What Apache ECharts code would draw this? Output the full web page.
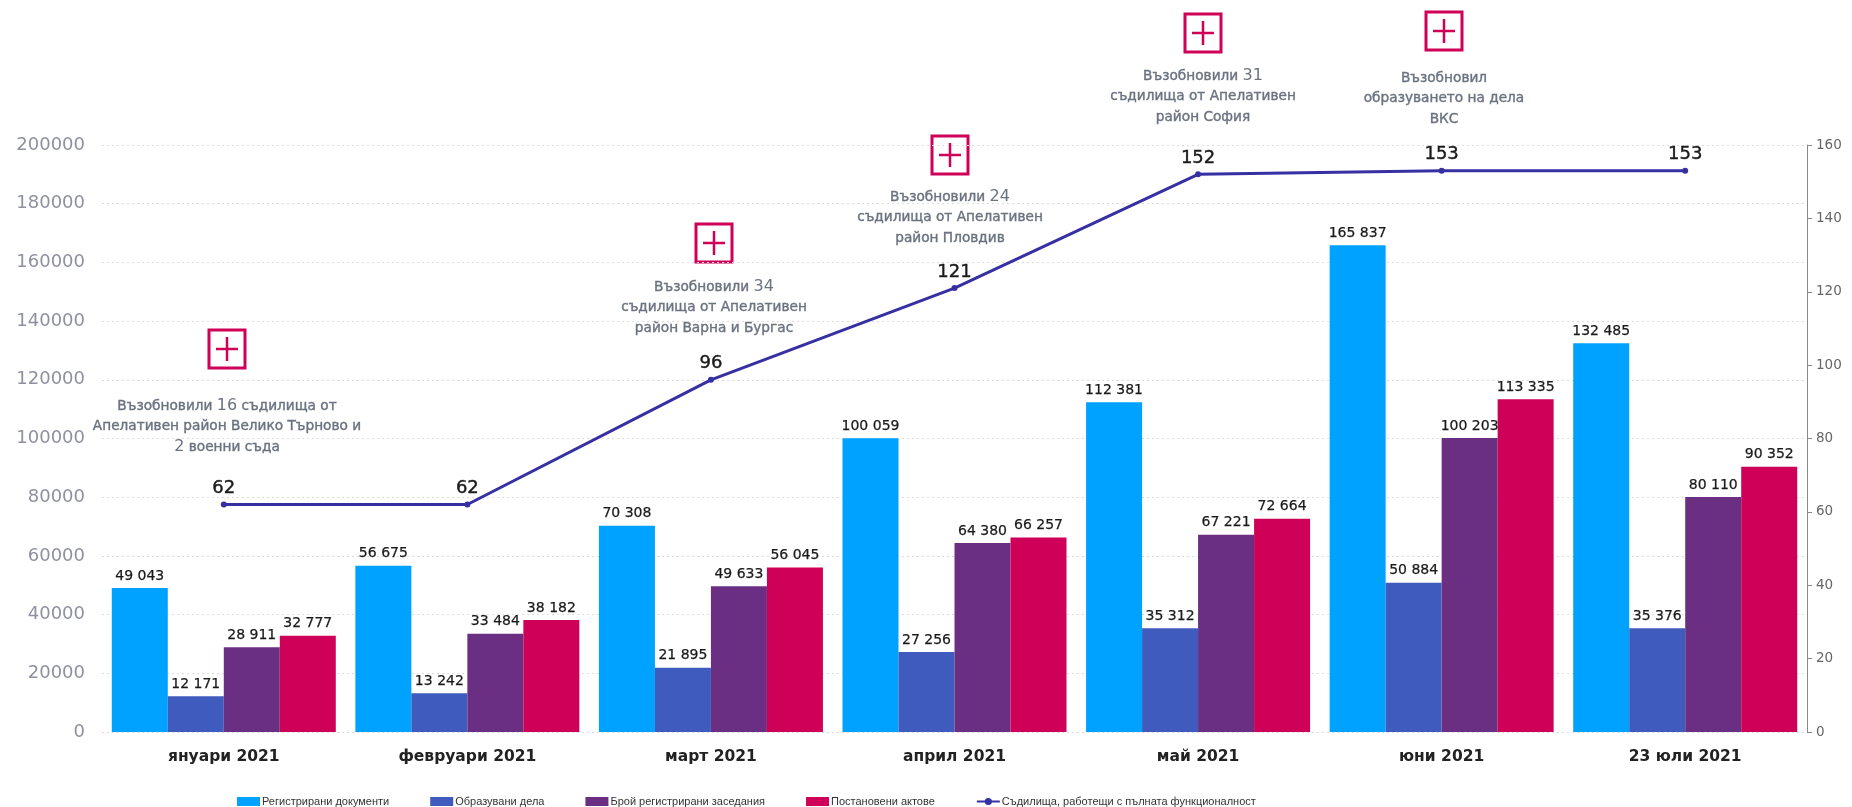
<!DOCTYPE html>
<html>
<head>
<meta charset="utf-8">
<title>Съдилища 2021</title>
<script src="https://cdn.jsdelivr.net/npm/echarts@6/dist/echarts.min.js"></script>
<style>
html, body { margin: 0; padding: 0; background: #fff; }
#main { width: 1852px; height: 807px; }
</style>
</head>
<body>
<div id="main"></div>
<script>
var months = ['януари 2021', 'февруари 2021', 'март 2021', 'април 2021', 'май 2021', 'юни 2021', '23 юли 2021'];
var documents = [49043, 56675, 70308, 100059, 112381, 165837, 132485];
var cases = [12171, 13242, 21895, 27256, 35312, 50884, 35376];
var hearings = [28911, 33484, 49633, 64380, 67221, 100203, 80110];
var acts = [32777, 38182, 56045, 66257, 72664, 113335, 90352];
var courts = [62, 62, 96, 121, 152, 153, 153];

var notes = [
    ['Възобновили 16 съдилища от', 'Апелативен район Велико Търново и', '2 военни съда'],
    ['Възобновили 34', 'съдилища от Апелативен', 'район Варна и Бургас'],
    ['Възобновили 24', 'съдилища от Апелативен', 'район Пловдив'],
    ['Възобновили 31', 'съдилища от Апелативен', 'район София'],
    ['Възобновил', 'образуването на дела', 'ВКС']
];
// icon centre and first text line, in pixels
var notePos = [[227, 349, 406], [714, 243, 287], [950, 155, 197], [1203, 33, 76], [1444, 31, 78]];

var font = '"DejaVu Sans", sans-serif';
var myChart = echarts.init(document.getElementById('main'));

function spaced(p) {
    return String(p.value).replace(/\B(?=(\d{3})+$)/g, ' ');
}

function barSeries(name, data, color) {
    return {
        name: name,
        type: 'bar',
        data: data,
        barWidth: 56,
        barGap: 0,
        itemStyle: { color: color },
        label: {
            show: true,
            position: 'top',
            distance: 5,
            formatter: spaced,
            fontFamily: font,
            fontSize: 14,
            color: '#1a1a1a',
            textBorderColor: '#1a1a1a',
            textBorderWidth: 0.25
        }
    };
}

function noteGraphics() {
    var items = [];
    notes.forEach(function (lines, i) {
        var p = notePos[i];
        items.push({
            type: 'rect',
            shape: { x: p[0] - 18, y: p[1] - 19, width: 36, height: 38 },
            style: { fill: '#fff', stroke: '#cf0058', lineWidth: 3 }
        });
        items.push({
            type: 'line',
            shape: { x1: p[0] - 11, y1: p[1], x2: p[0] + 11, y2: p[1] },
            style: { stroke: '#cf0058', lineWidth: 2.5 }
        });
        items.push({
            type: 'line',
            shape: { x1: p[0], y1: p[1] - 12, x2: p[0], y2: p[1] + 12 },
            style: { stroke: '#cf0058', lineWidth: 2.5 }
        });
        items.push({
            type: 'text',
            x: p[0],
            y: p[2] - 10,
            style: {
                text: lines.map(function (l) {
                    return l.split(/(\d+)/).map(function (s, k) {
                        if (!s) return '';
                        return (k % 2 ? '{n|' : '{t|') + s + '}';
                    }).join('');
                }).join('\n'),
                align: 'center',
                rich: {
                    t: { fontFamily: font, fontSize: 13.7, fill: '#6b7280', stroke: '#6b7280', lineWidth: 0.4, lineHeight: 20.5 },
                    n: { fontFamily: font, fontSize: 16, fill: '#6b7280', lineHeight: 20.5 }
                }
            }
        });
    });
    return items;
}

myChart.setOption({
    animation: false,
    grid: { left: 102, right: 45, top: 145, bottom: 75 },
    legend: {
        left: 232,
        top: 791,
        itemWidth: 23,
        itemHeight: 9,
        itemGap: 41,
        textStyle: { fontFamily: '"Liberation Sans", sans-serif', fontSize: 11, color: '#333', padding: [0, 0, 0, -3] },
        data: [
            { name: 'Регистрирани документи', icon: 'rect' },
            { name: 'Образувани дела', icon: 'rect' },
            { name: 'Брой регистрирани заседания', icon: 'rect' },
            { name: 'Постановени актове', icon: 'rect' },
            { name: 'Съдилища, работещи с пълната функционалност' }
        ]
    },
    xAxis: {
        type: 'category',
        data: months,
        axisLine: { show: false },
        axisTick: { show: false },
        axisLabel: { fontFamily: font, fontSize: 15.5, fontWeight: 'bold', color: '#222', margin: 17 }
    },
    yAxis: [
        {
            type: 'value',
            min: 0,
            max: 200000,
            interval: 20000,
            axisLine: { show: false },
            axisTick: { show: false },
            axisLabel: {
                fontFamily: font,
                fontSize: 18,
                color: '#8f90a0',
                margin: 17,
                formatter: function (v) { return String(v); }
            },
            splitLine: { lineStyle: { color: '#dcdcdc', type: [2, 3], width: 1 } }
        },
        {
            type: 'value',
            min: 0,
            max: 160,
            interval: 20,
            axisLine: { show: true, lineStyle: { color: '#888' } },
            axisTick: { show: true, length: 5, lineStyle: { color: '#888' } },
            axisLabel: { fontFamily: font, fontSize: 13.5, color: '#666', margin: 9 },
            splitLine: { show: false }
        }
    ],
    series: [
        barSeries('Регистрирани документи', documents, '#00a2ff'),
        barSeries('Образувани дела', cases, '#3f5bbd'),
        barSeries('Брой регистрирани заседания', hearings, '#6a2f82'),
        barSeries('Постановени актове', acts, '#cf0058'),
        {
            name: 'Съдилища, работещи с пълната функционалност',
            type: 'line',
            yAxisIndex: 1,
            data: courts,
            z: 5,
            symbol: 'circle',
            symbolSize: 6,
            lineStyle: { color: '#3730a3', width: 3 },
            itemStyle: { color: '#3730a3' },
            label: {
                show: true,
                position: 'top',
                distance: 4,
                fontFamily: font,
                fontSize: 18,
                color: '#1a1a1a',
                textBorderColor: '#1a1a1a',
                textBorderWidth: 0.4
            }
        }
    ],
    graphic: noteGraphics()
});
</script>
</body>
</html>
